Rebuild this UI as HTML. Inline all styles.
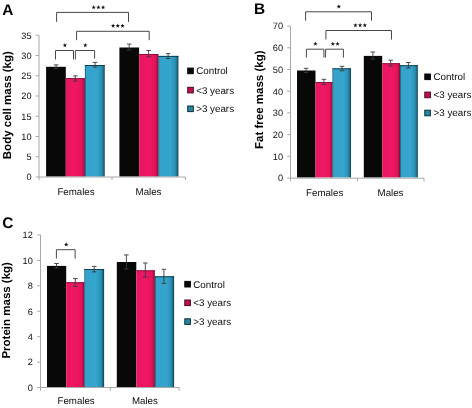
<!DOCTYPE html>
<html><head><meta charset="utf-8"><title>Figure</title>
<style>
html,body{margin:0;padding:0;background:#fff;}
body{width:472px;height:408px;overflow:hidden;}
svg{display:block;font-family:"Liberation Sans",sans-serif;will-change:transform;opacity:0.999;}
text{text-rendering:geometricPrecision;}
</style></head><body>
<svg width="472" height="408" viewBox="0 0 472 408">
<defs>
<linearGradient id="gp" x1="0" y1="0" x2="1" y2="0">
<stop offset="0" stop-color="#e81660"/><stop offset="0.5" stop-color="#f01764"/><stop offset="0.84" stop-color="#e2145a"/><stop offset="0.93" stop-color="#b80f48"/><stop offset="1" stop-color="#7d0a30"/>
</linearGradient>
<linearGradient id="gb" x1="0" y1="0" x2="1" y2="0">
<stop offset="0" stop-color="#103e4f"/><stop offset="0.06" stop-color="#34a3cc"/><stop offset="0.6" stop-color="#35a5ce"/><stop offset="0.84" stop-color="#2b90b4"/><stop offset="0.94" stop-color="#1a6a86"/><stop offset="1" stop-color="#0b2f3d"/>
</linearGradient>
</defs>
<rect width="472" height="408" fill="#fff"/>
<text x="2.3" y="14.6" font-size="15.4" font-weight="bold" fill="#000">A</text>
<path d="M39 35.3V177.5" stroke="#a8a8a8" stroke-width="1" fill="none"/>
<path d="M35.7 177.0H39" stroke="#a8a8a8" stroke-width="1"/>
<text x="31.6" y="180.30" font-size="9.2" text-anchor="end" fill="#0c0c0c">0</text>
<path d="M35.7 156.75H39" stroke="#a8a8a8" stroke-width="1"/>
<text x="31.6" y="160.05" font-size="9.2" text-anchor="end" fill="#0c0c0c">5</text>
<path d="M35.7 136.5H39" stroke="#a8a8a8" stroke-width="1"/>
<text x="31.6" y="139.80" font-size="9.2" text-anchor="end" fill="#0c0c0c">10</text>
<path d="M35.7 116.25H39" stroke="#a8a8a8" stroke-width="1"/>
<text x="31.6" y="119.55" font-size="9.2" text-anchor="end" fill="#0c0c0c">15</text>
<path d="M35.7 96.0H39" stroke="#a8a8a8" stroke-width="1"/>
<text x="31.6" y="99.30" font-size="9.2" text-anchor="end" fill="#0c0c0c">20</text>
<path d="M35.7 75.75H39" stroke="#a8a8a8" stroke-width="1"/>
<text x="31.6" y="79.05" font-size="9.2" text-anchor="end" fill="#0c0c0c">25</text>
<path d="M35.7 55.5H39" stroke="#a8a8a8" stroke-width="1"/>
<text x="31.6" y="58.80" font-size="9.2" text-anchor="end" fill="#0c0c0c">30</text>
<path d="M35.7 35.25H39" stroke="#a8a8a8" stroke-width="1"/>
<text x="31.6" y="38.55" font-size="9.2" text-anchor="end" fill="#0c0c0c">35</text>
<rect x="46.1" y="66.8" width="19.70" height="109.80" fill="#080808"/>
<rect x="65.8" y="78.1" width="19.10" height="98.50" fill="url(#gp)"/>
<rect x="65.8" y="78.1" width="19.10" height="1" fill="#7a0c33" opacity="0.8"/>
<rect x="84.9" y="65" width="19.80" height="111.60" fill="url(#gb)"/>
<rect x="84.9" y="65" width="19.80" height="1" fill="#0d3444" opacity="0.9"/>
<rect x="119.4" y="47.5" width="19.70" height="129.10" fill="#080808"/>
<rect x="139.1" y="54" width="19.30" height="122.60" fill="url(#gp)"/>
<rect x="139.1" y="54" width="19.30" height="1" fill="#7a0c33" opacity="0.8"/>
<rect x="158.4" y="55.9" width="20.00" height="120.70" fill="url(#gb)"/>
<rect x="158.4" y="55.9" width="20.00" height="1" fill="#0d3444" opacity="0.9"/>
<path d="M39 177H185.4" stroke="#a8a8a8" stroke-width="1" fill="none"/>
<path d="M39 177V180.2" stroke="#a8a8a8" stroke-width="1"/>
<path d="M112 177V180.2" stroke="#a8a8a8" stroke-width="1"/>
<path d="M185.4 177V180.2" stroke="#a8a8a8" stroke-width="1"/>
<path d="M53.80 64.9H58.40M53.80 68.5H58.40M56.1 64.9V68.5" stroke="#3a3a3a" stroke-width="0.9" fill="none"/>
<path d="M73.00 75.9H77.60M73.00 81.2H77.60M75.3 75.9V81.2" stroke="#3a3a3a" stroke-width="0.9" fill="none"/>
<path d="M92.80 62.4H97.40M92.80 67.1H97.40M95.1 62.4V67.1" stroke="#3a3a3a" stroke-width="0.9" fill="none"/>
<path d="M126.90 44.1H131.50M126.90 50H131.50M129.2 44.1V50" stroke="#3a3a3a" stroke-width="0.9" fill="none"/>
<path d="M146.30 50.5H150.90M146.30 56.8H150.90M148.6 50.5V56.8" stroke="#3a3a3a" stroke-width="0.9" fill="none"/>
<path d="M165.80 53.6H170.40M165.80 58.5H170.40M168.1 53.6V58.5" stroke="#3a3a3a" stroke-width="0.9" fill="none"/>
<path d="M56.6 21.9V12.4H128.5V21.9" stroke="#484848" stroke-width="1" fill="none"/>
<polygon points="93.70,5.10 94.26,6.63 95.89,6.69 94.60,7.69 95.05,9.26 93.70,8.35 92.35,9.26 92.80,7.69 91.51,6.69 93.14,6.63" fill="#111"/>
<polygon points="98.40,5.10 98.96,6.63 100.59,6.69 99.30,7.69 99.75,9.26 98.40,8.35 97.05,9.26 97.50,7.69 96.21,6.69 97.84,6.63" fill="#111"/>
<polygon points="103.10,5.10 103.66,6.63 105.29,6.69 104.00,7.69 104.45,9.26 103.10,8.35 101.75,9.26 102.20,7.69 100.91,6.69 102.54,6.63" fill="#111"/>
<path d="M76.6 40.2V31.3H149.2V40.2" stroke="#484848" stroke-width="1" fill="none"/>
<polygon points="113.10,23.50 113.66,25.03 115.29,25.09 114.00,26.09 114.45,27.66 113.10,26.75 111.75,27.66 112.20,26.09 110.91,25.09 112.54,25.03" fill="#111"/>
<polygon points="117.80,23.50 118.36,25.03 119.99,25.09 118.70,26.09 119.15,27.66 117.80,26.75 116.45,27.66 116.90,26.09 115.61,25.09 117.24,25.03" fill="#111"/>
<polygon points="122.50,23.50 123.06,25.03 124.69,25.09 123.40,26.09 123.85,27.66 122.50,26.75 121.15,27.66 121.60,26.09 120.31,25.09 121.94,25.03" fill="#111"/>
<path d="M55.5 59.5V50.5H73.5V59.5" stroke="#484848" stroke-width="1" fill="none"/>
<polygon points="64.90,43.00 65.46,44.53 67.09,44.59 65.80,45.59 66.25,47.16 64.90,46.25 63.55,47.16 64.00,45.59 62.71,44.59 64.34,44.53" fill="#111"/>
<path d="M75.4 59.5V50.5H94.6V58.6" stroke="#484848" stroke-width="1" fill="none"/>
<polygon points="85.30,43.00 85.86,44.53 87.49,44.59 86.20,45.59 86.65,47.16 85.30,46.25 83.95,47.16 84.40,45.59 83.11,44.59 84.74,44.53" fill="#111"/>
<text x="76" y="194.6" font-size="9.7" text-anchor="middle" fill="#0c0c0c">Females</text>
<text x="148.5" y="194.6" font-size="9.7" text-anchor="middle" fill="#0c0c0c">Males</text>
<rect x="187.7" y="68.10" width="5.6" height="5.6" fill="#080808" stroke="#080808" stroke-width="1"/>
<text x="196.2" y="74.3" font-size="9.8" fill="#0c0c0c">Control</text>
<rect x="187.7" y="87.30" width="5.6" height="5.6" fill="#bd134c" stroke="#4a081f" stroke-width="1"/>
<text x="196.2" y="93.5" font-size="9.8" fill="#0c0c0c">&lt;3 years</text>
<rect x="187.7" y="106.00" width="5.6" height="5.6" fill="#2a86a0" stroke="#0b2e3a" stroke-width="1"/>
<text x="196.2" y="112.2" font-size="9.8" fill="#0c0c0c">&gt;3 years</text>
<text transform="translate(10.6 105.2) rotate(-90)" font-size="11.5" font-weight="bold" text-anchor="middle" fill="#000">Body cell mass (kg)</text>
<text x="254.0" y="14.2" font-size="15.4" font-weight="bold" fill="#000">B</text>
<path d="M290.5 26.1V178.5" stroke="#a8a8a8" stroke-width="1" fill="none"/>
<path d="M287.2 178.0H290.5" stroke="#a8a8a8" stroke-width="1"/>
<text x="283" y="181.30" font-size="9.2" text-anchor="end" fill="#0c0c0c">0</text>
<path d="M287.2 156.3H290.5" stroke="#a8a8a8" stroke-width="1"/>
<text x="283" y="159.60" font-size="9.2" text-anchor="end" fill="#0c0c0c">10</text>
<path d="M287.2 134.6H290.5" stroke="#a8a8a8" stroke-width="1"/>
<text x="283" y="137.90" font-size="9.2" text-anchor="end" fill="#0c0c0c">20</text>
<path d="M287.2 112.9H290.5" stroke="#a8a8a8" stroke-width="1"/>
<text x="283" y="116.20" font-size="9.2" text-anchor="end" fill="#0c0c0c">30</text>
<path d="M287.2 91.2H290.5" stroke="#a8a8a8" stroke-width="1"/>
<text x="283" y="94.50" font-size="9.2" text-anchor="end" fill="#0c0c0c">40</text>
<path d="M287.2 69.5H290.5" stroke="#a8a8a8" stroke-width="1"/>
<text x="283" y="72.80" font-size="9.2" text-anchor="end" fill="#0c0c0c">50</text>
<path d="M287.2 47.80000000000001H290.5" stroke="#a8a8a8" stroke-width="1"/>
<text x="283" y="51.10" font-size="9.2" text-anchor="end" fill="#0c0c0c">60</text>
<path d="M287.2 26.099999999999994H290.5" stroke="#a8a8a8" stroke-width="1"/>
<text x="283" y="29.40" font-size="9.2" text-anchor="end" fill="#0c0c0c">70</text>
<rect x="297" y="70.5" width="18.50" height="107.00" fill="#080808"/>
<rect x="315.5" y="82" width="17.00" height="95.50" fill="url(#gp)"/>
<rect x="315.5" y="82" width="17.00" height="1" fill="#7a0c33" opacity="0.8"/>
<rect x="332.5" y="68.3" width="18.50" height="109.20" fill="url(#gb)"/>
<rect x="332.5" y="68.3" width="18.50" height="1" fill="#0d3444" opacity="0.9"/>
<rect x="363.8" y="55.9" width="18.40" height="121.60" fill="#080808"/>
<rect x="382.2" y="63.2" width="17.80" height="114.30" fill="url(#gp)"/>
<rect x="382.2" y="63.2" width="17.80" height="1" fill="#7a0c33" opacity="0.8"/>
<rect x="400" y="65.2" width="17.80" height="112.30" fill="url(#gb)"/>
<rect x="400" y="65.2" width="17.80" height="1" fill="#0d3444" opacity="0.9"/>
<path d="M290.5 178.2H424" stroke="#a8a8a8" stroke-width="1" fill="none"/>
<path d="M290.5 178.2V181.39999999999998" stroke="#a8a8a8" stroke-width="1"/>
<path d="M357.4 178.2V181.39999999999998" stroke="#a8a8a8" stroke-width="1"/>
<path d="M424 178.2V181.39999999999998" stroke="#a8a8a8" stroke-width="1"/>
<path d="M303.80 68.3H308.40M303.80 72.5H308.40M306.1 68.3V72.5" stroke="#3a3a3a" stroke-width="0.9" fill="none"/>
<path d="M321.60 79.3H326.20M321.60 84.4H326.20M323.9 79.3V84.4" stroke="#3a3a3a" stroke-width="0.9" fill="none"/>
<path d="M339.70 66.3H344.30M339.70 70.8H344.30M342 66.3V70.8" stroke="#3a3a3a" stroke-width="0.9" fill="none"/>
<path d="M370.60 52H375.20M370.60 59H375.20M372.9 52V59" stroke="#3a3a3a" stroke-width="0.9" fill="none"/>
<path d="M388.40 60.2H393.00M388.40 66H393.00M390.7 60.2V66" stroke="#3a3a3a" stroke-width="0.9" fill="none"/>
<path d="M406.10 62.5H410.70M406.10 68H410.70M408.4 62.5V68" stroke="#3a3a3a" stroke-width="0.9" fill="none"/>
<path d="M305.6 20.7V11.8H371.5V20.7" stroke="#484848" stroke-width="1" fill="none"/>
<polygon points="338.80,4.30 339.36,5.83 340.99,5.89 339.70,6.89 340.15,8.46 338.80,7.55 337.45,8.46 337.90,6.89 336.61,5.89 338.24,5.83" fill="#111"/>
<path d="M325.9 39.6V30.5H391.5V39.6" stroke="#484848" stroke-width="1" fill="none"/>
<polygon points="355.40,23.00 355.96,24.53 357.59,24.59 356.30,25.59 356.75,27.16 355.40,26.25 354.05,27.16 354.50,25.59 353.21,24.59 354.84,24.53" fill="#111"/>
<polygon points="360.10,23.00 360.66,24.53 362.29,24.59 361.00,25.59 361.45,27.16 360.10,26.25 358.75,27.16 359.20,25.59 357.91,24.59 359.54,24.53" fill="#111"/>
<polygon points="364.80,23.00 365.36,24.53 366.99,24.59 365.70,25.59 366.15,27.16 364.80,26.25 363.45,27.16 363.90,25.59 362.61,24.59 364.24,24.53" fill="#111"/>
<path d="M306.4 57.6V49.2H323.9V57.6" stroke="#484848" stroke-width="1" fill="none"/>
<polygon points="315.40,41.60 315.96,43.13 317.59,43.19 316.30,44.19 316.75,45.76 315.40,44.85 314.05,45.76 314.50,44.19 313.21,43.19 314.84,43.13" fill="#111"/>
<path d="M325.6 57.6V49.2H343.4V57.6" stroke="#484848" stroke-width="1" fill="none"/>
<polygon points="332.85,41.60 333.41,43.13 335.04,43.19 333.75,44.19 334.20,45.76 332.85,44.85 331.50,45.76 331.95,44.19 330.66,43.19 332.29,43.13" fill="#111"/>
<polygon points="337.55,41.60 338.11,43.13 339.74,43.19 338.45,44.19 338.90,45.76 337.55,44.85 336.20,45.76 336.65,44.19 335.36,43.19 336.99,43.13" fill="#111"/>
<text x="324.7" y="195.6" font-size="9.7" text-anchor="middle" fill="#0c0c0c">Females</text>
<text x="390.5" y="195.6" font-size="9.7" text-anchor="middle" fill="#0c0c0c">Males</text>
<rect x="424.8" y="74.00" width="5.6" height="5.6" fill="#080808" stroke="#080808" stroke-width="1"/>
<text x="433.5" y="80.2" font-size="9.8" fill="#0c0c0c">Control</text>
<rect x="424.8" y="92.10" width="5.6" height="5.6" fill="#bd134c" stroke="#4a081f" stroke-width="1"/>
<text x="433.5" y="98.3" font-size="9.8" fill="#0c0c0c">&lt;3 years</text>
<rect x="424.8" y="110.20" width="5.6" height="5.6" fill="#2a86a0" stroke="#0b2e3a" stroke-width="1"/>
<text x="433.5" y="116.4" font-size="9.8" fill="#0c0c0c">&gt;3 years</text>
<text transform="translate(263.2 99.7) rotate(-90)" font-size="11.5" font-weight="bold" text-anchor="middle" fill="#000">Fat free mass (kg)</text>
<text x="2.2" y="227.6" font-size="15.4" font-weight="bold" fill="#000">C</text>
<path d="M40.5 234.9V388.1" stroke="#a8a8a8" stroke-width="1" fill="none"/>
<path d="M37.2 387.6H40.5" stroke="#a8a8a8" stroke-width="1"/>
<text x="32.8" y="390.90" font-size="9.2" text-anchor="end" fill="#0c0c0c">0</text>
<path d="M37.2 362.15000000000003H40.5" stroke="#a8a8a8" stroke-width="1"/>
<text x="32.8" y="365.45" font-size="9.2" text-anchor="end" fill="#0c0c0c">2</text>
<path d="M37.2 336.70000000000005H40.5" stroke="#a8a8a8" stroke-width="1"/>
<text x="32.8" y="340.00" font-size="9.2" text-anchor="end" fill="#0c0c0c">4</text>
<path d="M37.2 311.25H40.5" stroke="#a8a8a8" stroke-width="1"/>
<text x="32.8" y="314.55" font-size="9.2" text-anchor="end" fill="#0c0c0c">6</text>
<path d="M37.2 285.8H40.5" stroke="#a8a8a8" stroke-width="1"/>
<text x="32.8" y="289.10" font-size="9.2" text-anchor="end" fill="#0c0c0c">8</text>
<path d="M37.2 260.35H40.5" stroke="#a8a8a8" stroke-width="1"/>
<text x="32.8" y="263.65" font-size="9.2" text-anchor="end" fill="#0c0c0c">10</text>
<path d="M37.2 234.90000000000003H40.5" stroke="#a8a8a8" stroke-width="1"/>
<text x="32.8" y="238.20" font-size="9.2" text-anchor="end" fill="#0c0c0c">12</text>
<rect x="47" y="265.9" width="19.20" height="121.10" fill="#080808"/>
<rect x="66.2" y="282.2" width="18.20" height="104.80" fill="url(#gp)"/>
<rect x="66.2" y="282.2" width="18.20" height="1" fill="#7a0c33" opacity="0.8"/>
<rect x="84.4" y="269" width="19.70" height="118.00" fill="url(#gb)"/>
<rect x="84.4" y="269" width="19.70" height="1" fill="#0d3444" opacity="0.9"/>
<rect x="116.8" y="262" width="19.50" height="125.00" fill="#080808"/>
<rect x="136.3" y="270.3" width="18.60" height="116.70" fill="url(#gp)"/>
<rect x="136.3" y="270.3" width="18.60" height="1" fill="#7a0c33" opacity="0.8"/>
<rect x="154.9" y="276.3" width="19.20" height="110.70" fill="url(#gb)"/>
<rect x="154.9" y="276.3" width="19.20" height="1" fill="#0d3444" opacity="0.9"/>
<path d="M40.5 387.5H179.2" stroke="#a8a8a8" stroke-width="1" fill="none"/>
<path d="M40.5 387.5V390.7" stroke="#a8a8a8" stroke-width="1"/>
<path d="M110.3 387.5V390.7" stroke="#a8a8a8" stroke-width="1"/>
<path d="M179.2 387.5V390.7" stroke="#a8a8a8" stroke-width="1"/>
<path d="M54.20 263.5H58.80M54.20 268H58.80M56.5 263.5V268" stroke="#3a3a3a" stroke-width="0.9" fill="none"/>
<path d="M73.00 278.6H77.60M73.00 286.3H77.60M75.3 278.6V286.3" stroke="#3a3a3a" stroke-width="0.9" fill="none"/>
<path d="M91.90 266.4H96.50M91.90 271.9H96.50M94.2 266.4V271.9" stroke="#3a3a3a" stroke-width="0.9" fill="none"/>
<path d="M124.10 254.9H128.70M124.10 269H128.70M126.4 254.9V269" stroke="#3a3a3a" stroke-width="0.9" fill="none"/>
<path d="M143.00 263H147.60M143.00 277.1H147.60M145.3 263V277.1" stroke="#3a3a3a" stroke-width="0.9" fill="none"/>
<path d="M161.60 269.3H166.20M161.60 283.4H166.20M163.9 269.3V283.4" stroke="#3a3a3a" stroke-width="0.9" fill="none"/>
<path d="M56.4 258.6V249.7H75.1V258.6" stroke="#484848" stroke-width="1" fill="none"/>
<polygon points="66.20,242.30 66.76,243.83 68.39,243.89 67.10,244.89 67.55,246.46 66.20,245.55 64.85,246.46 65.30,244.89 64.01,243.89 65.64,243.83" fill="#111"/>
<text x="76.1" y="403.8" font-size="9.7" text-anchor="middle" fill="#0c0c0c">Females</text>
<text x="144.9" y="403.8" font-size="9.7" text-anchor="middle" fill="#0c0c0c">Males</text>
<rect x="184.8" y="281.40" width="5.6" height="5.6" fill="#080808" stroke="#080808" stroke-width="1"/>
<text x="193.3" y="287.6" font-size="9.8" fill="#0c0c0c">Control</text>
<rect x="184.8" y="300.00" width="5.6" height="5.6" fill="#bd134c" stroke="#4a081f" stroke-width="1"/>
<text x="193.3" y="306.2" font-size="9.8" fill="#0c0c0c">&lt;3 years</text>
<rect x="184.8" y="318.80" width="5.6" height="5.6" fill="#2a86a0" stroke="#0b2e3a" stroke-width="1"/>
<text x="193.3" y="325" font-size="9.8" fill="#0c0c0c">&gt;3 years</text>
<text transform="translate(10.2 310.3) rotate(-90)" font-size="11.5" font-weight="bold" text-anchor="middle" fill="#000">Protein mass (kg)</text>
</svg>
</body></html>
